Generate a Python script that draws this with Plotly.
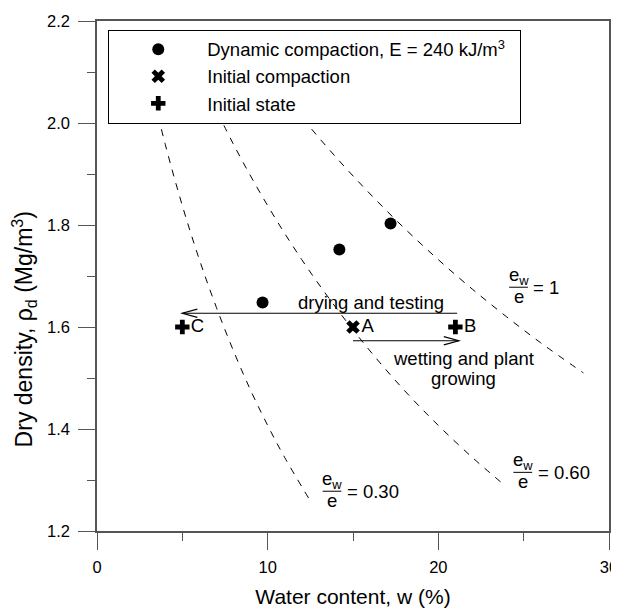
import plotly.graph_objects as go

# ---------------- data ----------------
dyn_w = [9.7, 14.2, 17.2]
dyn_rho = [1.648, 1.752, 1.803]

init_comp_w = [15.0]
init_comp_rho = [1.600]
init_comp_lab = ["A"]

init_state_w = [5.0, 21.0]
init_state_rho = [1.600, 1.600]
init_state_lab = ["C", "B"]

# saturation lines ew/e = 1, 0.60, 0.30 (upper ends hidden behind the legend box)
sat100_w = [10, 12, 14, 16, 18, 20, 22, 24, 26, 28.5]
sat100_rho = [2.095, 2.011, 1.933, 1.861, 1.794, 1.732, 1.674, 1.620, 1.569, 1.510]
sat60_w = [6, 8, 10, 12, 14, 16, 18, 20, 22, 23.8]
sat60_rho = [2.095, 1.958, 1.838, 1.732, 1.638, 1.553, 1.476, 1.407, 1.344, 1.292]
sat30_w = [3, 4, 5, 6, 7, 8, 9, 10, 11, 12.5]
sat30_rho = [2.095, 1.958, 1.838, 1.732, 1.638, 1.553, 1.476, 1.407, 1.344, 1.259]

x_ticks = [0, 10, 20, 30]
y_ticks = [1.2, 1.4, 1.6, 1.8, 2.0, 2.2]

# curve labels: (fraction centre w, fraction line rho, ratio text)
curve_labels = [(24.7, 1.678, "= 1"), (24.95, 1.315, "= 0.60"), (13.77, 1.278, "= 0.30")]

# process arrows: (from w, to w, rho)
drying_arrow = (21.1, 5.0, 1.627)
wetting_arrow = (15.0, 21.2, 1.573)

FONT = "Liberation Sans, Arial, sans-serif"
AX = "#555555"
NB = "\u00a0"
ANN = 18.5
HEAD_DW = 0.88    # arrow-head length (w units)
HEAD_DR = 0.008   # arrow-head half width (rho units)

fig = go.Figure()

for w, r in [(sat100_w, sat100_rho), (sat60_w, sat60_rho), (sat30_w, sat30_rho)]:
    fig.add_trace(go.Scatter(x=w, y=r, mode="lines", showlegend=False,
                             line=dict(color="black", width=1, dash="7px,7px", shape="spline"),
                             hoverinfo="skip"))

fig.add_trace(go.Scatter(x=dyn_w, y=dyn_rho, mode="markers",
                         name="Dynamic compaction, E = 240 kJ/m<sup>3</sup>" + NB * 2,
                         marker=dict(symbol="circle", size=12, color="black")))
fig.add_trace(go.Scatter(x=init_comp_w, y=init_comp_rho, mode="markers+text",
                         name="Initial compaction", text=init_comp_lab,
                         textposition="middle right",
                         textfont=dict(family=FONT, size=ANN, color="black"),
                         marker=dict(symbol="x", size=12, color="black")))
fig.add_trace(go.Scatter(x=init_state_w, y=init_state_rho, mode="markers+text",
                         name="Initial state", text=init_state_lab,
                         textposition="middle right",
                         textfont=dict(family=FONT, size=ANN, color="black"),
                         marker=dict(symbol="cross", size=12, color="black")))

annotations = []
shapes = []
for wc, rl, txt in curve_labels:
    shapes.append(dict(type="line", xref="x", yref="y", x0=wc - 0.55, x1=wc + 0.55,
                       y0=rl, y1=rl, line=dict(color="black", width=1)))
    annotations.append(dict(x=wc, y=rl, xref="x", yref="y", text="e<sub>w</sub>",
                            showarrow=False, xanchor="center", yanchor="bottom",
                            font=dict(family=FONT, size=ANN, color="black"), yshift=-3))
    annotations.append(dict(x=wc, y=rl, xref="x", yref="y", text="e",
                            showarrow=False, xanchor="center", yanchor="top",
                            font=dict(family=FONT, size=ANN, color="black"), yshift=3))
    annotations.append(dict(x=wc + 0.75, y=rl, xref="x", yref="y", text=txt,
                            showarrow=False, xanchor="left", yanchor="middle",
                            font=dict(family=FONT, size=ANN, color="black")))

# arrows: shaft + slender open head
for w0, w1, r in [drying_arrow, wetting_arrow]:
    sgn = 1 if w1 < w0 else -1
    shapes.append(dict(type="line", xref="x", yref="y", x0=w0, x1=w1, y0=r, y1=r,
                       line=dict(color="black", width=1.2)))
    shapes.append(dict(type="path", xref="x", yref="y",
                       path=f"M{w1 + sgn * HEAD_DW},{r + HEAD_DR} L{w1},{r} L{w1 + sgn * HEAD_DW},{r - HEAD_DR}",
                       line=dict(color="black", width=1.2)))

annotations.append(dict(x=16.05, y=1.648, xref="x", yref="y", text="drying and testing",
                        showarrow=False, font=dict(family=FONT, size=ANN, color="black")))
annotations.append(dict(x=21.45, y=1.539, xref="x", yref="y", text="wetting and plant",
                        showarrow=False, font=dict(family=FONT, size=ANN, color="black")))
annotations.append(dict(x=21.5, y=1.500, xref="x", yref="y", text="growing",
                        showarrow=False, font=dict(family=FONT, size=ANN, color="black")))

# y-axis title (sits a little below the axis centre in the reference)
annotations.append(dict(x=-0.1426, y=0.16, xref="paper", yref="paper",
                        text="Dry density, ρ<sub>d</sub> (Mg/m<sup>3</sup>)",
                        textangle=-90, showarrow=False, xanchor="center", yanchor="bottom",
                        font=dict(family=FONT, size=23, color="black")))

fig.update_layout(
    width=611, height=600,
    margin=dict(l=89, r=10, t=13, b=77),
    plot_bgcolor="white", paper_bgcolor="white",
    font=dict(family=FONT, size=16.5, color="black"),
    showlegend=True,
    legend=dict(x=0.022, y=0.983, xanchor="left", yanchor="top",
                bgcolor="white", bordercolor="black", borderwidth=1,
                font=dict(family=FONT, size=18.5, color="black"),
                itemwidth=88, tracegroupgap=0),
    annotations=annotations,
    shapes=shapes,
    xaxis=dict(range=[0, 30], tickvals=x_ticks, ticks="outside", ticklen=17,
               tickcolor=AX, linecolor=AX, linewidth=1.5, mirror=True,
               showgrid=False, zeroline=False, automargin=False,
               ticklabelstandoff=3,
               minor=dict(dtick=5, ticks="outside", ticklen=8, tickcolor=AX, showgrid=False),
               title=dict(text="Water content, w (%)", font=dict(size=21), standoff=16),
               tickfont=dict(size=16.5)),
    yaxis=dict(range=[1.2, 2.2], tickvals=y_ticks, tickformat=".1f", ticks="outside", ticklen=17,
               tickcolor=AX, linecolor=AX, linewidth=1.5, mirror=True,
               showgrid=False, zeroline=False, automargin=False,
               ticklabelstandoff=5,
               minor=dict(dtick=0.1, ticks="outside", ticklen=8, tickcolor=AX, showgrid=False),
               tickfont=dict(size=16.5)),
)

fig.write_html("out.html")
